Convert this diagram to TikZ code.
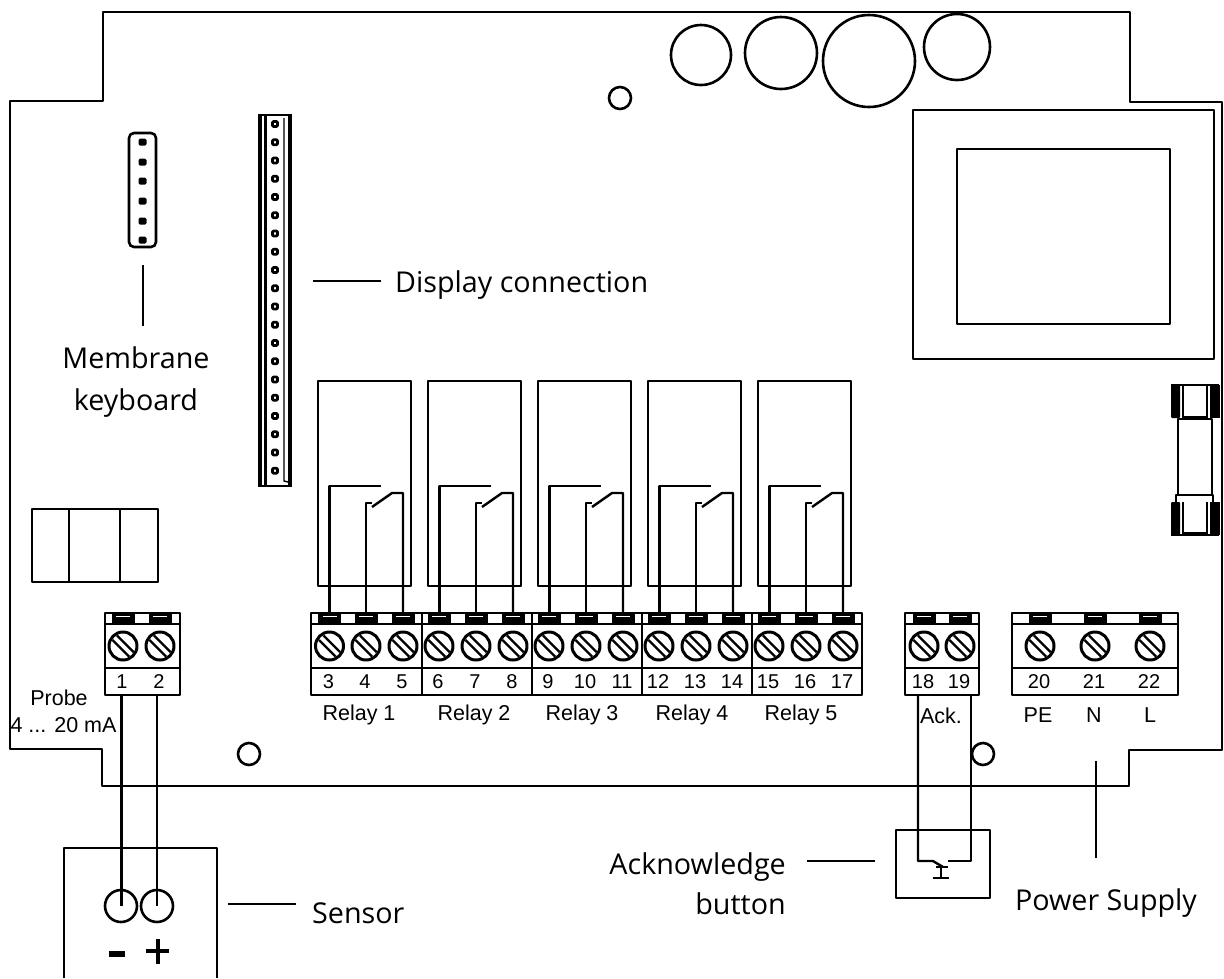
\documentclass[tikz,border=0pt]{standalone}
\usepackage{fontspec}
\setmainfont{Open Sans}
\newfontfamily\smallfont{Liberation Sans}
\usetikzlibrary{positioning}
\begin{document}
\begin{tikzpicture}[
    x=1pt, y=-1pt,
    line join=round,
    board/.style={line width=2.6pt},
    wire/.style={line width=2.4pt},
    leader/.style={line width=1.6pt},
    callout/.style={font=\fontsize{28.7}{42}\selectfont, inner sep=0pt},
    tag/.style={font=\smallfont\fontsize{21.5}{24}\selectfont, inner sep=0pt},
    numtag/.style={font=\smallfont\fontsize{20}{22}\selectfont, inner sep=0pt},
    pics/screw/.style={code={
        \draw[line width=3pt] (0,0) circle (14);
        \draw[line width=2.2pt] (-10.5,-6)--(6,10.5) (-6,-10.5)--(10.5,6);
    }},
    pics/tab/.style={code={
        \fill[black] (-11.5,-4.5) rectangle (11.5,4.5);
        \draw[white, line width=0.9pt] (-7,-1.5)--(7,-1.5);
    }}
]
    \useasboundingbox (0,0) rectangle (1224,978);

    % Board outline
    \draw[board] (103,12) -- (1130,12) -- (1130,102) -- (1222,102) -- (1222,750)
        -- (1129,750) -- (1129,786) -- (102,786) -- (102,749) -- (10,749)
        -- (10,101) -- (103,101) -- cycle;

    % Capacitors and holes
    \foreach \x/\y/\r in {701/55/30, 781/53/36, 869/61/46, 957/47/33,
                          620/98/11, 249/754/11, 983/754/11} {
        \draw[board] (\x,\y) circle (\r);
    }

    % Transformer
    \draw[board] (913,110) rectangle (1214,359);
    \draw[board] (957,149) rectangle (1170,324);

    % Fuse
    \draw[board, fill=white] (1178,419) rectangle (1212,495);
    \draw[board] (1176,502) -- (1176,495) -- (1213,495) -- (1213,502);
    \draw[board] (1171,385) -- (1219,385) (1171,535) -- (1219,535);
    \draw[line width=1.6pt] (1183,417) -- (1207,417) (1183,533) -- (1207,533);
    \foreach \y in {385,502} {
        \fill[black, rounded corners=1pt] (1171,\y) rectangle (1180,\y+33);
        \fill[black] (1182,\y) rectangle (1184,\y+33);
        \fill[black] (1206,\y) rectangle (1208,\y+33);
        \fill[black] (1210,\y) rectangle (1220,\y+33);
    }

    % Membrane keyboard connector
    \draw[board, rounded corners=5pt] (129,133) rectangle (156,247);
    \foreach \y in {142,162,181,201,221,240} {
        \fill[black, rounded corners=1.5pt] (138.5,\y-3.5) rectangle (146.5,\y+3.5);
    }

    % Display connector
    \draw[board] (258,115) -- (292,115) (258,486) -- (292,486);
    \fill[black] (258,114) rectangle (262,487);
    \fill[black] (264,114) rectangle (266.5,487);
    \fill[black] (288,114) rectangle (292,487);
    \draw[line width=1.4pt] (284,118) -- (284,481) -- (288,482);
    \foreach \i in {0,...,19} {
        \draw[line width=2.8pt, rounded corners=1pt]
            (272.5,121.5+18.25*\i) rectangle (277.5,126.5+18.25*\i);
    }

    % Opto block
    \draw[board] (32,509) rectangle (158,582);
    \draw[board] (69,509) -- (69,582) (120,509) -- (120,582);

    % Relays
    \foreach \x in {318,428,538,648,758} {
        \draw[board] (\x,381) rectangle (\x+93,586);
        \draw[wire] (\x+11.5,613) -- (\x+11.5,486) -- (\x+63,486);
        \draw[wire] (\x+48,613) -- (\x+48,503) -- (\x+54,503);
        \draw[wire] (\x+54,507) -- (\x+74,493) -- (\x+85,493) -- (\x+85,613);
    }

    % Terminal blocks
    \foreach \xa/\xb in {105/180, 311/422, 422/532, 532/642, 642/752, 752/862,
                         905/979, 1012/1178} {
        \draw[board] (\xa,613) rectangle (\xb,695);
        \draw[board] (\xa,624) -- (\xb,624) (\xa,668) -- (\xb,668);
    }
    \foreach \x/\n in {123/1, 160/2,
                       329.5/3, 366/4, 403/5, 439/6, 476/7, 513/8,
                       549/9, 586/10, 623/11, 659/12, 696/13, 733/14,
                       769/15, 806/16, 843/17,
                       924/18, 960/19, 1040/20, 1095/21, 1150/22} {
        \pic at (\x,646) {screw};
        \pic at (\x,618) {tab};
        \node[numtag] (num\n) at (\x-1,681.5) {\n};
    }

    % Terminal labels
    \foreach \x/\n in {359/1, 474/2, 582/3, 692/4, 801/5} {
        \node[tag] (relay\n) at (\x,715) {Relay \n};
    }
    \node[tag] (probe) at (59,698) {Probe};
    \node[tag] (mA) at (63.5,725) {4 ... 20 mA};
    \node[tag] (ack) at (941,716) {Ack.};
    \node[tag] (pe) at (1038,715) {PE};
    \node[tag] (neutral) at (1094,715) {N};
    \node[tag] (line) at (1150,715) {L};

    % Sensor
    \draw[board] (64,978) -- (64,848) -- (217,848) -- (217,978);
    \coordinate (sensorminus) at (121,906);
    \coordinate (sensorplus) at (157,906);
    \draw[board] (sensorminus) circle (16);
    \draw[board] (sensorplus) circle (16);
    \draw[line width=3pt] (121,695) -- (sensorminus);
    \draw[wire] (157,695) -- (sensorplus);
    \fill[black] (109,951) rectangle (125,957);
    \fill[black] (146,949) rectangle (169,953);
    \fill[black] (155.5,939) rectangle (159.5,964);

    % Acknowledge button
    \draw[board] (896,830) rectangle (990,898);
    \draw[wire] (918,695) -- (918,861) -- (933,861) -- (943,867);
    \draw[wire] (971,695) -- (971,861) -- (948,861);
    \draw[wire] (941,867) -- (941,878) (933,878) -- (949,878);
    \draw[wire] (936,867) -- (948,867);

    % Callouts
    \node[callout, align=center] (membrane) at (136,382) {Membrane\\keyboard};
    \coordinate (membranepin) at (143,265);
    \draw[leader] (membranepin) -- (membranepin |- 0,326);

    \node[callout, anchor=west] (display) at (395,285) {Display connection};
    \coordinate (displayend) at (313,281);
    \draw[leader] (displayend) -- (381,281);

    \node[callout, anchor=west] (sensor) at (312,913) {Sensor};
    \coordinate (sensorend) at (228,904);
    \draw[leader] (sensorend) -- (296,904);

    \node[callout, align=right, anchor=east, font=\fontsize{28.7}{40}\selectfont]
        (button) at (786,884) {Acknowledge\\button};
    \coordinate (buttonend) at (875,861);
    \draw[leader] (buttonend) -- (807,861);

    \node[callout] (power) at (1106,903) {Power Supply};
    \coordinate (powerend) at (1096,761);
    \draw[leader] (powerend) -- (1096,858);
\end{tikzpicture}
\end{document}
